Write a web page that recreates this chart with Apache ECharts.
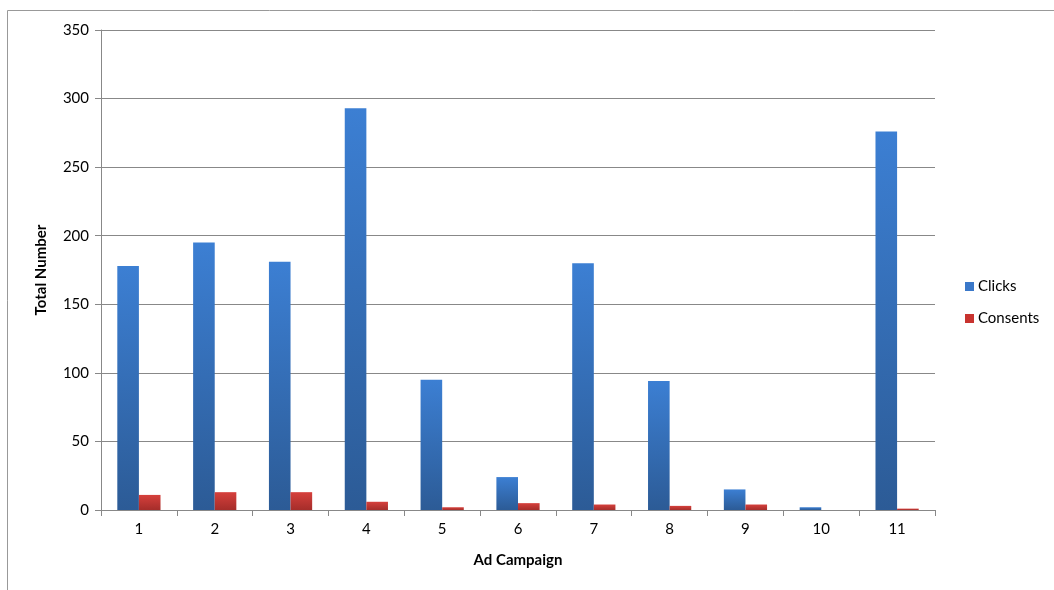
<!DOCTYPE html>
<html>
<head>
<meta charset="utf-8">
<script src="https://cdn.jsdelivr.net/npm/echarts@6/dist/echarts.min.js"></script>
<style>
html, body { margin: 0; padding: 0; background: #fff; }
#chart { width: 1054px; height: 590px; }
</style>
</head>
<body>
<div id="chart"></div>
<script>
var campaigns = ['1', '2', '3', '4', '5', '6', '7', '8', '9', '10', '11'];
var clicks = [178, 195, 181, 293, 95, 24, 180, 94, 15, 2, 276];
var consents = [11, 13, 13, 6, 2, 5, 4, 3, 4, 0, 1];

var myChart = echarts.init(document.getElementById('chart'));

function grad(top, bottom) {
    return new echarts.graphic.LinearGradient(0, 0, 0, 1, [
        { offset: 0, color: top },
        { offset: 1, color: bottom }
    ]);
}

var font = 'Lato, Open Sans, sans-serif';

var option = {
    animation: false,
    textStyle: { fontFamily: font },
    graphic: [{
        type: 'rect',
        shape: { x: 7.5, y: 10.5, width: 1060, height: 600 },
        style: { fill: 'none', stroke: '#999', lineWidth: 1 },
        silent: true
    }],
    grid: { left: 101, right: 119, top: 30, bottom: 80 },
    legend: {
        orient: 'vertical',
        left: 960,
        top: 274,
        itemWidth: 9,
        itemHeight: 9,
        itemGap: 17,
        icon: 'rect',
        textStyle: { fontSize: 15, color: '#000', fontFamily: font, padding: [0, 0, 0, -1] },
        data: [
            { name: 'Clicks', itemStyle: { color: '#3a78c9' } },
            { name: 'Consents', itemStyle: { color: '#c8332f' } }
        ]
    },
    xAxis: {
        type: 'category',
        data: campaigns,
        name: 'Ad Campaign',
        nameLocation: 'middle',
        nameGap: 43,
        nameTextStyle: { fontSize: 15, fontWeight: 'bold', color: '#000' },
        axisLine: { lineStyle: { color: '#888' } },
        axisTick: { show: true, alignWithLabel: false, length: 6, lineStyle: { color: '#888' } },
        axisLabel: { fontSize: 15, color: '#000', margin: 12 }
    },
    yAxis: {
        type: 'value',
        min: 0,
        max: 350,
        interval: 50,
        name: 'Total Number',
        nameLocation: 'middle',
        nameGap: 52,
        nameTextStyle: { fontSize: 15, fontWeight: 'bold', color: '#000' },
        axisLine: { show: true, lineStyle: { color: '#888' } },
        axisTick: { show: true, inside: false, length: 6, lineStyle: { color: '#888' } },
        axisLabel: { fontSize: 15, color: '#000', margin: 12 },
        splitLine: { lineStyle: { color: '#888' } }
    },
    series: [{
        name: 'Clicks',
        type: 'bar',
        data: clicks,
        barGap: '0%',
        barCategoryGap: '43%',
        itemStyle: { color: grad('#3c7fd3', '#2c5b96') }
    }, {
        name: 'Consents',
        type: 'bar',
        data: consents,
        itemStyle: { color: grad('#d6403c', '#a52d2a') }
    }]
};

myChart.setOption(option);
</script>
</body>
</html>
